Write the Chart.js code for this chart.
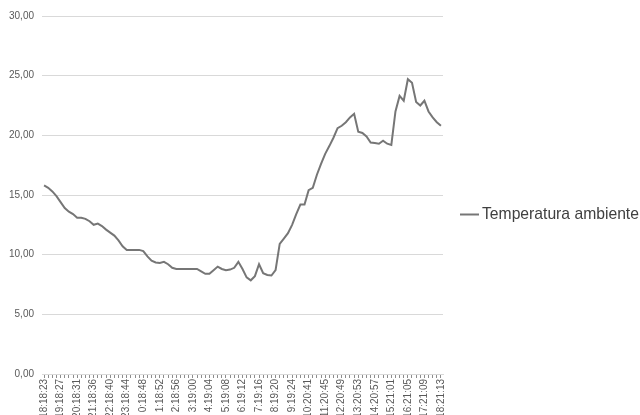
<!DOCTYPE html>
<html>
<head>
<meta charset="utf-8">
<script src="https://cdn.jsdelivr.net/npm/chart.js@4"></script>
<style>
  html, body { margin: 0; padding: 0; background: #ffffff; }
  #wrap { width: 640px; height: 415px; position: relative; }
</style>
</head>
<body>
<div id="wrap"><canvas id="chart-temp"></canvas></div>
<script>
// etiquetas visibles del eje x (una cada 4 lecturas)
const tickLabels = ['18:18:23', '19:18:27', '20:18:31', '21:18:36', '22:18:40', '23:18:44', '0:18:48', '1:18:52', '2:18:56',
    '3:19:00', '4:19:04', '5:19:08', '6:19:12', '7:19:16', '8:19:20', '9:19:24', '10:20:41', '11:20:45', '12:20:49',
    '13:20:53', '14:20:57', '15:21:01', '16:21:05', '17:21:09', '18:21:13'];
const pointsPerLabel = 4;
const seriesName = 'Temperatura ambiente';
const temperatures = [
    15.8, 15.6, 15.3, 14.9, 14.4, 13.9, 13.6, 13.4, 13.1, 13.1,
    13.0, 12.8, 12.5, 12.6, 12.4, 12.1, 11.85, 11.6, 11.2, 10.7,
    10.4, 10.4, 10.4, 10.4, 10.3, 9.85, 9.5, 9.35, 9.3, 9.4,
    9.2, 8.9, 8.8, 8.8, 8.8, 8.8, 8.8, 8.8, 8.6, 8.4,
    8.4, 8.7, 9.0, 8.8, 8.7, 8.75, 8.9, 9.4, 8.8, 8.1,
    7.85, 8.2, 9.2, 8.45, 8.3, 8.25, 8.7, 10.9, 11.35, 11.8,
    12.5, 13.4, 14.2, 14.2, 15.4, 15.6, 16.7, 17.6, 18.45, 19.1,
    19.8, 20.6, 20.8, 21.1, 21.5, 21.8, 20.3, 20.2, 19.9, 19.4,
    19.35, 19.3, 19.55, 19.3, 19.2, 22.0, 23.3, 22.9, 24.7, 24.4,
    22.8, 22.5, 22.9, 22.0, 21.5, 21.1, 20.8
];
const yMin = 0;
const yMax = 30;
const yStep = 5;

const lineColor = '#767676';
const fontFamily = '"Liberation Sans", Arial, sans-serif';

// una categoría por lectura; solo la primera de cada grupo lleva texto
const categories = [];
tickLabels.forEach((label, i) => {
    categories.push(label);
    if (i < tickLabels.length - 1) {
        for (let k = 1; k < pointsPerLabel; k++) categories.push('');
    }
});

const sideLegend = {
    id: 'sideLegend',
    afterDraw(chart) {
        const ctx = chart.ctx;
        const x = chart.chartArea.right + 17;
        const y = chart.height / 2 + 7;
        ctx.save();
        ctx.strokeStyle = lineColor;
        ctx.lineWidth = 2;
        ctx.beginPath();
        ctx.moveTo(x, y);
        ctx.lineTo(x + 19, y);
        ctx.stroke();
        ctx.fillStyle = '#404040';
        ctx.font = '15.7px ' + fontFamily;
        ctx.textBaseline = 'middle';
        ctx.fillText(seriesName, x + 22, y);
        ctx.restore();
    }
};

new Chart(document.getElementById('chart-temp'), {
    type: 'line',
    data: {
        labels: categories,
        datasets: [{
            label: seriesName,
            data: temperatures,
            borderColor: lineColor,
            borderWidth: 2,
            pointRadius: 0,
            tension: 0,
            fill: false
        }]
    },
    options: {
        responsive: true,
        maintainAspectRatio: false,
        animation: false,
        layout: { padding: { top: 16, right: 197, left: 0, bottom: 0 } },
        plugins: {
            legend: { display: false },
            tooltip: { enabled: false }
        },
        scales: {
            x: {
                type: 'category',
                offset: true,
                grid: { display: true, drawOnChartArea: false, drawTicks: true, tickLength: 4, color: '#8c8c8c' },
                border: { display: true, color: '#d9d9d9' },
                ticks: {
                    autoSkip: false,
                    minRotation: 90,
                    maxRotation: 90,
                    padding: 1,
                    color: '#595959',
                    font: { family: fontFamily, size: 10 }
                },
                afterFit(scale) { scale.height = 41; }
            },
            y: {
                min: yMin,
                max: yMax,
                grid: { color: '#d9d9d9', drawTicks: false },
                border: { display: false },
                ticks: {
                    stepSize: yStep,
                    padding: 8,
                    color: '#595959',
                    font: { family: fontFamily, size: 10 },
                    callback: (v) => v.toFixed(2).replace('.', ',')
                },
                afterFit(scale) { scale.width = 42; }
            }
        }
    },
    plugins: [sideLegend]
});
</script>
</body>
</html>
